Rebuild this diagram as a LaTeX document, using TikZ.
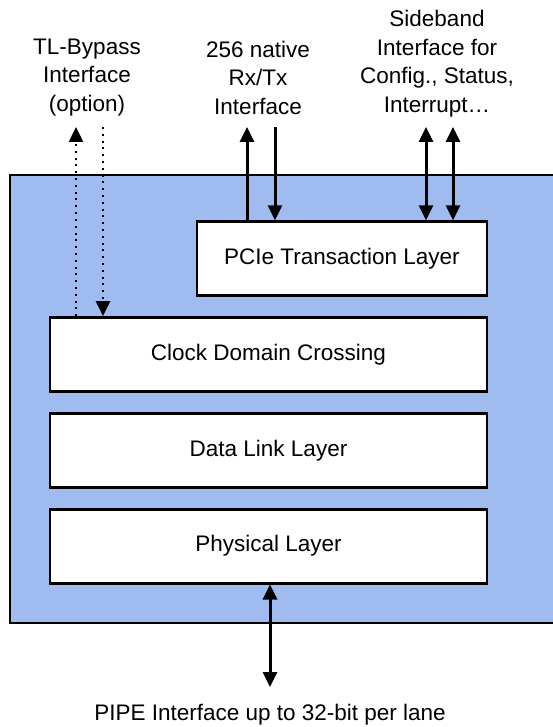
\documentclass[tikz,border=0pt]{standalone}
\usepackage{fontspec}
\setmainfont{Liberation Sans}
\usepackage{tikz}
\usetikzlibrary{positioning,arrows.meta}
\definecolor{corefill}{RGB}{160,187,240}
\tikzstyle{layer} = [rectangle, draw, fill=white, line width=2.8pt,
    minimum width=437pt, minimum height=74pt, text centered]
\tikzstyle{label} = [align=center, inner sep=0pt]
\tikzstyle{line} = [draw, line width=3pt, -{Triangle[length=15pt,width=14pt]}]
\tikzstyle{both} = [draw, line width=3pt, {Triangle[length=15pt,width=14pt]}-{Triangle[length=15pt,width=14pt]}]
\tikzstyle{bypass} = [draw, line width=2.4pt, dash pattern=on 2pt off 4.8pt,
    -{Triangle[length=15pt,width=14pt]}]

\begin{document}
\begin{tikzpicture}[x=1pt, y=-1pt, node distance=19pt,
    font=\fontsize{22.5}{28.5}\selectfont]
    \useasboundingbox (0,0) rectangle (553,727);
    \clip (0,0) rectangle (553,727);
    % Core
    \draw [fill=corefill, line width=2.8pt] (10,175) rectangle (580,623);
    % Place nodes
    \node [layer] (cdc) at (268.5,354.5) {Clock Domain Crossing};
    \node [layer, below=of cdc] (dll) {Data Link Layer};
    \node [layer, below=of dll] (phy) {Physical Layer};
    \node [layer, minimum width=290pt, above left=19pt and 0pt of cdc.north east] (tl) {PCIe Transaction Layer};
    % Interface ends
    \coordinate (bypup) at (76,127);
    \coordinate (bypdn) at (103,127);
    \coordinate (rxtxup) at (247,127);
    \coordinate (rxtxdn) at (275,127);
    \coordinate (sbone) at (426,127);
    \coordinate (sbtwo) at (453,127);
    \coordinate (pipe) at (270,687);
    \node [label] (byplbl) at (87,77.5) {TL-Bypass\\Interface\\(option)};
    \node [label] (rxtxlbl) at (258,77.5) {256 native\\Rx/Tx\\Interface};
    \node [label] (sblbl) at (437,63.5) {Sideband\\Interface for\\Config., Status,\\Interrupt\dots};
    \node [label, anchor=base] (pipelbl) at (270,720) {PIPE Interface up to 32-bit per lane};
    % Draw edges
    \path [bypass] (cdc.north -| bypup) -- (bypup);
    \path [bypass] (bypdn) -- (cdc.north -| bypdn);
    \path [line] (tl.north -| rxtxup) -- (rxtxup);
    \path [line] (rxtxdn) -- (tl.north -| rxtxdn);
    \path [both] (sbone) -- (tl.north -| sbone);
    \path [both] (sbtwo) -- (tl.north -| sbtwo);
    \path [both] (phy.south -| pipe) -- (pipe);
\end{tikzpicture}
\end{document}
